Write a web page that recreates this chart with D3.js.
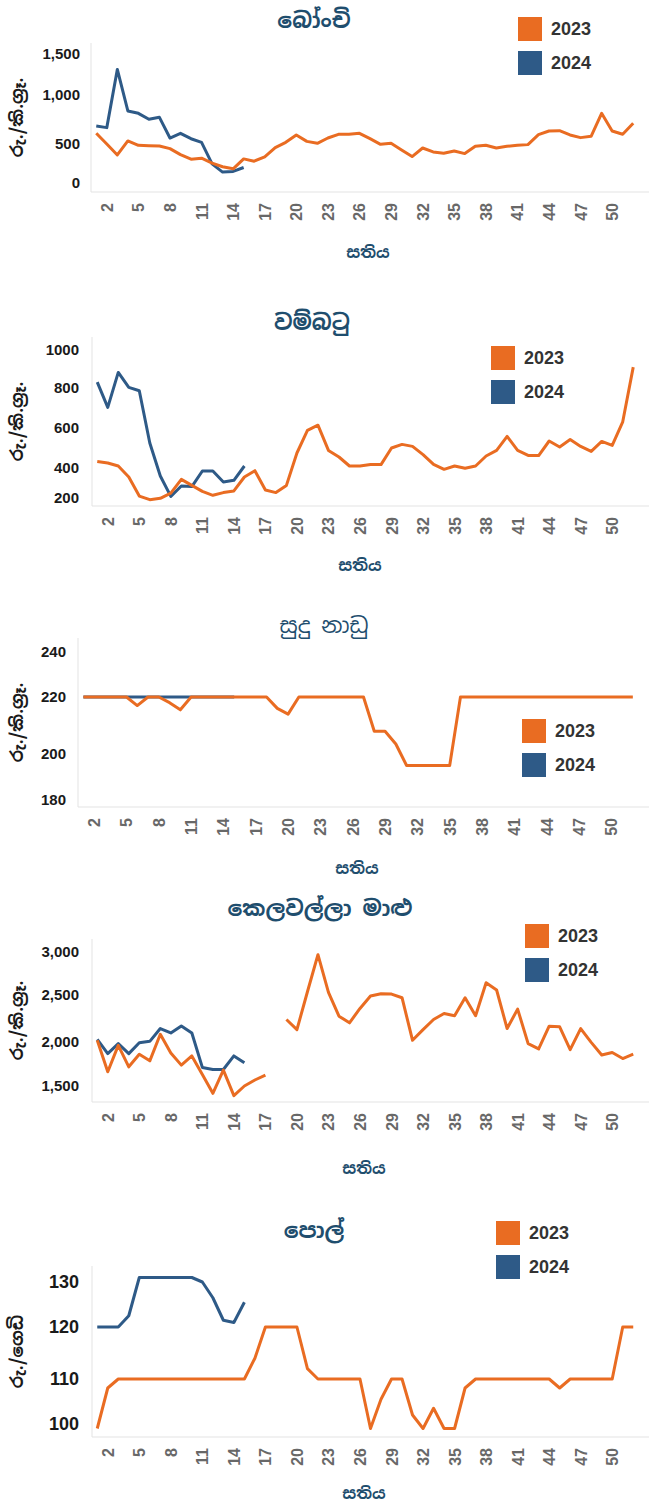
<!DOCTYPE html>
<html>
<head>
<meta charset="utf-8">
<script src="https://cdn.jsdelivr.net/npm/d3@7"></script>
<style>
  body { margin: 0; background: #fff; }
  svg text { font-family: "Liberation Sans", Arial, sans-serif; }
  svg text.si { font-family: "Noto Sans Sinhala", "Iskoola Pota", "Noto Sans", sans-serif; }
</style>
</head>
<body>
<svg id="chart" width="658" height="1504"></svg>
<script>
const weeks = d3.range(1, 54);
const weekTicks = [2, 5, 8, 11, 14, 17, 20, 23, 26, 29, 32, 35, 38, 41, 44, 47, 50];
const years = ['2023', '2024'];
const colors = ['#e96c22', '#2e5a87'];
const xTitle = 'සතිය';

// බෝංචි
const bonchiTicks = [0, 500, 1000, 1500];
const bonchi2023 = [609, 500, 360, 531, 483, 479, 475, 441, 364, 305, 318, 254, 208, 182, 309, 280, 335, 453, 517, 592,
  527, 507, 561, 599, 599, 609, 554, 496, 507, 424, 339, 449, 398, 381, 411, 377, 470, 483, 449, 470,
  483, 492, 595, 633, 636, 592, 565, 578, 813, 633, 599, 711];
const bonchi2024 = [684, 667, 1312, 837, 813, 752, 772, 561, 609, 554, 517, 246, 140, 148, 199];

// වම්බටු
const wambatuTicks = [200, 400, 600, 800, 1000];
const wambatu2023 = [433, 425, 410, 340, 213, 189, 198, 233, 324, 284, 244, 218, 236, 247, 340, 382, 253, 236, 284, 475,
  588, 614, 488, 455, 410, 410, 418, 417, 500, 518, 508, 467, 418, 391, 410, 398, 410, 460, 488, 558,
  488, 463, 462, 535, 505, 542, 508, 483, 533, 513, 631, 910];
const wambatu2024 = [831, 703, 882, 803, 786, 525, 347, 211, 280, 276, 380, 380, 307, 318, 410];

// සුදු නාඩු
const naduTicks = [180, 200, 220, 240];
const nadu2023 = [220, 220, 220, 220, 220, 217, 220, 220, 218, 215.5, 220, 220, 220, 220, 220, 220, 220, 220, 216, 214,
  220, 220, 220, 220, 220, 220, 220, 208, 208, 203.5, 195, 195, 195, 195, 195, 220, 220, 220, 220, 220,
  220, 220, 220, 220, 220, 220, 220, 220, 220, 220, 220, 220];
const nadu2024 = [220, 220, 220, 220, 220, 220, 220, 220, 220, 220, 220, 220, 220, 220, 220];

// කෙලවල්ලා මාළු
const kelawallaTicks = [1500, 2000, 2500, 3000];
const kelawalla2023 = [2018, 1662, 1962, 1718, 1861, 1786, 2082, 1876, 1737, 1842, 1632, 1417, 1680, 1391, 1500, 1568, 1624, null, 2239, 2132,
  2538, 2969, 2531, 2275, 2204, 2357, 2489, 2515, 2511, 2471, 2018, 2132, 2239, 2304, 2279, 2471, 2279, 2642, 2558, 2143,
  2350, 1981, 1921, 2168, 2161, 1914, 2143, 1996, 1853, 1880, 1812, 1861];
const kelawalla2024 = [2029, 1868, 1981, 1868, 1992, 2007, 2143, 2096, 2171, 2096, 1711, 1688, 1688, 1842, 1763];

// පොල්
const polTicks = [100, 110, 120, 130];
const pol2023 = [99, 108, 110, 110, 110, 110, 110, 110, 110, 110, 110, 110, 110, 110, 110, 114, 120, 120, 120, 120,
  112, 110, 110, 110, 110, 110, 99, 105.5, 110, 110, 102, 99, 103.5, 99, 99, 108, 110, 110, 110, 110,
  110, 110, 110, 110, 108, 110, 110, 110, 110, 110, 120, 120];
const pol2024 = [120, 120, 120, 122.5, 131, 131, 131, 131, 131, 131, 130, 126.5, 121.5, 121, 125.5];

const charts = [
  { title: 'බෝංචි', yTitle: 'රු./කි.ග්‍රෑ.', series: [bonchi2023, bonchi2024], ticks: bonchiTicks, fmt: d3.format(','),
    box: { left: 91, right: 649, top: 43, bottom: 192 }, tickY: [183, 144, 95, 54], labelRight: 80, tickSize: 15,
    titleAt: [314, 20], legendAt: [518, 17], xTitleAt: [368, 252] },
  { title: 'වම්බටු', yTitle: 'රු./කි.ග්‍රෑ.', series: [wambatu2023, wambatu2024], ticks: wambatuTicks, fmt: d3.format('d'),
    box: { left: 92, right: 649, top: 337, bottom: 506 }, tickY: [498, 468, 428, 388, 350], labelRight: 79, tickSize: 15,
    titleAt: [312, 322], legendAt: [491, 346], xTitleAt: [360, 565] },
  { title: 'සුදු නාඩු', yTitle: 'රු./කි.ග්‍රෑ.', series: [nadu2023, nadu2024], ticks: naduTicks, fmt: d3.format('d'),
    box: { left: 78, right: 649, top: 638, bottom: 807 }, tickY: [800, 754, 697, 652], labelRight: 66, tickSize: 15,
    titleAt: [324, 625], legendAt: [522, 719], xTitleAt: [357, 868], lightTitle: true },
  { title: 'කෙලවල්ලා මාළු', yTitle: 'රු./කි.ග්‍රෑ.', series: [kelawalla2023, kelawalla2024], ticks: kelawallaTicks, fmt: d3.format(','),
    box: { left: 92, right: 649, top: 939, bottom: 1102 }, tickY: [1086, 1042, 995, 952], labelRight: 79, tickSize: 15,
    titleAt: [320, 908], legendAt: [525, 924], xTitleAt: [364, 1168] },
  { title: 'පොල්', yTitle: 'රු./ගෙඩි', series: [pol2023, pol2024], ticks: polTicks, fmt: d3.format('d'),
    box: { left: 92, right: 649, top: 1266, bottom: 1437 }, tickY: [1424, 1379, 1327, 1282], labelRight: 79, tickSize: 18,
    titleAt: [314, 1230], legendAt: [496, 1221], xTitleAt: [364, 1493] }
];

const svg = d3.select('#chart');

function drawChart(c) {
  const g = svg.append('g');
  const b = c.box;

  const x = d3.scaleBand().domain(weeks).range([b.left, b.right]);
  // the printed tick spacing is uneven, so the scale follows it piece by piece
  const y = d3.scaleLinear().domain(c.ticks).range(c.tickY);

  // axis lines
  g.append('line')
    .attr('x1', b.left).attr('x2', b.left).attr('y1', b.top).attr('y2', b.bottom)
    .attr('stroke', '#e3e3e3');
  g.append('line')
    .attr('x1', b.left).attr('x2', b.right).attr('y1', b.bottom).attr('y2', b.bottom)
    .attr('stroke', '#e3e3e3');

  // y tick labels
  g.selectAll('.ytick')
    .data(c.ticks)
    .enter()
    .append('text')
    .attr('class', 'ytick')
    .attr('x', c.labelRight)
    .attr('y', (d) => y(d))
    .attr('dy', '0.35em')
    .attr('text-anchor', 'end')
    .attr('font-size', c.tickSize)
    .attr('font-weight', 'bold')
    .attr('fill', '#1a1a1a')
    .text((d) => c.fmt(d));

  // x tick labels, turned on their side
  g.selectAll('.xtick')
    .data(weekTicks)
    .enter()
    .append('text')
    .attr('class', 'xtick')
    .attr('transform', (d) => `translate(${x(d) + x.bandwidth() / 2 + 6},${b.bottom + 11}) rotate(-90)`)
    .attr('text-anchor', 'end')
    .attr('font-size', 16)
    .attr('font-weight', 'bold')
    .attr('fill', '#686868')
    .text((d) => d);

  const line = d3.line()
    .defined((d) => d != null)
    .x((d, i) => x(weeks[i]) + x.bandwidth() / 2)
    .y((d) => y(d));

  // 2024 underneath, 2023 on top
  [1, 0].forEach((k) => {
    g.append('path')
      .datum(c.series[k])
      .attr('d', line)
      .attr('fill', 'none')
      .attr('stroke', colors[k])
      .attr('stroke-width', 3)
      .attr('stroke-linejoin', 'round');
  });

  // titles
  g.append('text')
    .attr('class', 'si')
    .attr('x', c.titleAt[0]).attr('y', c.titleAt[1])
    .attr('dy', '0.35em')
    .attr('text-anchor', 'middle')
    .attr('font-size', 22)
    .attr('font-weight', c.lightTitle ? 'normal' : 'bold')
    .attr('fill', '#1f4e6e')
    .text(c.title);

  g.append('text')
    .attr('class', 'si')
    .attr('x', c.xTitleAt[0]).attr('y', c.xTitleAt[1])
    .attr('dy', '0.35em')
    .attr('text-anchor', 'middle')
    .attr('font-size', 16)
    .attr('font-weight', 'bold')
    .attr('fill', '#1f4e6e')
    .text(xTitle);

  g.append('text')
    .attr('class', 'si')
    .attr('transform', `translate(17,${(b.top + b.bottom) / 2}) rotate(-90)`)
    .attr('dy', '0.35em')
    .attr('text-anchor', 'middle')
    .attr('font-size', 17)
    .attr('font-weight', 'bold')
    .attr('fill', '#1a1a1a')
    .text(c.yTitle);

  // legend
  const legend = g.selectAll('.legend')
    .data(years)
    .enter()
    .append('g')
    .attr('class', 'legend')
    .attr('transform', (d, i) => `translate(${c.legendAt[0]},${c.legendAt[1] + i * 34})`);
  legend.append('rect')
    .attr('width', 24).attr('height', 24)
    .attr('fill', (d, i) => colors[i]);
  legend.append('text')
    .attr('x', 33).attr('y', 12)
    .attr('dy', '0.35em')
    .attr('font-size', 18)
    .attr('font-weight', 'bold')
    .attr('fill', '#333')
    .text((d) => d);
}

charts.forEach(drawChart);
</script>
</body>
</html>
